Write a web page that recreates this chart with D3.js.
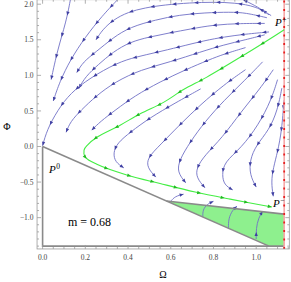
<!DOCTYPE html>
<html><head><meta charset="utf-8">
<script src="https://cdn.jsdelivr.net/npm/d3@7"></script>
<style>body{margin:0;background:#fff}svg{display:block}</style>
</head><body>
<svg id="c" width="291" height="282"></svg>
<script>
// ---- data (Ω, Φ) ----
const xTicks = [0, 0.2, 0.4, 0.6, 0.8, 1.0];
const xTickLabels = ["0.0", "0.2", "0.4", "0.6", "0.8", "1.0"];
const yTicks = [-1.0, -0.5, 0.0, 0.5, 1.0, 1.5, 2.0];
const yTickLabels = ["\u22121.0", "\u22120.5", "0.0", "0.5", "1.0", "1.5", "2.0"];
const omegaMax = 1.131;
const boxOutline = [[0, 0], [0, -1.40], [omegaMax, -1.40]];
const diagonal = [[0, 0], [1.06, -1.40]];
const greenRegion = [[0.58, -0.766], [omegaMax, -0.95], [omegaMax, -1.40], [1.06, -1.40]];
const greenTop = [[0.58, -0.766], [omegaMax, -0.95]];
const separatrix = [[1.131,1.64],[1.058,1.50],[0.956,1.31],[0.769,0.975],[0.66,0.80],[0.566,0.62],[0.457,0.46],[0.363,0.30],[0.254,0.13],[0.21,0.02],[0.194,-0.05],[0.20,-0.15],[0.254,-0.25],[0.394,-0.40],[0.55,-0.52],[0.714,-0.64],[0.878,-0.74],[1.073,-0.85]];
const streamUpper = [
  [[0.13,2.06],[0.11,1.75],[0.07,1.36],[0.04,0.94]],
  [[0.35,2.06],[0.28,1.84],[0.20,1.54],[0.13,1.22],[0.08,0.91],[0.05,0.64]],
  [[1.06,1.85],[1.01,1.96],[0.94,2.06]],
  [[1.07,1.84],[1.00,1.97],[0.90,2.02],[0.80,2.03],[0.69,2.02],[0.57,1.99],[0.48,1.95],[0.40,1.89],[0.33,1.78],[0.28,1.64],[0.25,1.50]],
  [[1.05,1.81],[0.95,1.88],[0.88,1.89],[0.76,1.88],[0.64,1.85],[0.53,1.78],[0.41,1.68],[0.33,1.53],[0.25,1.33],[0.19,1.19],[0.16,1.04]],
  [[1.04,1.73],[0.93,1.73],[0.80,1.71],[0.69,1.65],[0.60,1.60],[0.50,1.54],[0.41,1.47],[0.33,1.33],[0.26,1.15],[0.20,0.98],[0.17,0.82]],
  [[1.06,1.61],[0.95,1.58],[0.85,1.54],[0.76,1.49],[0.64,1.40],[0.53,1.32],[0.44,1.26],[0.35,1.18],[0.22,0.96],[0.13,0.75],[0.07,0.51],[0.02,0.23],[0.00,0.01]],
  [[1.04,1.57],[0.95,1.50],[0.85,1.43],[0.74,1.33],[0.60,1.19],[0.46,1.08],[0.34,0.91],[0.25,0.71],[0.18,0.51],[0.13,0.35],[0.11,0.20]],
  [[0.95,1.39],[0.85,1.30],[0.78,1.22],[0.67,1.08],[0.55,0.91],[0.43,0.71],[0.34,0.51],[0.27,0.35],[0.23,0.23]]
];
const streamMiddle = [
  [[0.74,0.81],[0.62,0.61],[0.50,0.40],[0.41,0.20],[0.35,0.05],[0.33,-0.09],[0.34,-0.22],[0.38,-0.30]],
  [[0.95,1.08],[0.85,0.87],[0.74,0.59],[0.64,0.30],[0.55,0.02],[0.49,-0.16],[0.49,-0.30],[0.53,-0.43]],
  [[1.03,1.19],[0.95,0.94],[0.85,0.65],[0.76,0.35],[0.69,0.06],[0.64,-0.19],[0.63,-0.36],[0.67,-0.51]],
  [[1.08,1.08],[1.02,0.82],[0.93,0.49],[0.84,0.12],[0.76,-0.12],[0.72,-0.30],[0.72,-0.44],[0.76,-0.58]],
  [[1.10,0.94],[1.07,0.65],[1.01,0.30],[0.93,-0.02],[0.85,-0.22],[0.84,-0.40],[0.85,-0.54],[0.89,-0.61]],
  [[1.12,0.82],[1.10,0.51],[1.06,0.23],[1.00,0.02],[0.97,-0.19],[0.97,-0.40],[1.00,-0.57]],
  [[1.13,0.65],[1.12,0.23],[1.10,-0.08],[1.08,-0.30],[1.07,-0.50],[1.08,-0.70]]
];
const streamGreen = [
  [[0.60,-0.77],[0.62,-0.70],[0.66,-0.67]],
  [[0.75,-0.99],[0.75,-0.89],[0.77,-0.81],[0.80,-0.77]],
  [[0.87,-1.16],[0.87,-1.01],[0.89,-0.89],[0.91,-0.84]],
  [[1.00,-1.30],[1.00,-1.15],[1.01,-1.01],[1.03,-0.91]]
];
const plotRange = {x: [-0.026, 1.155], y: [-1.44, 2.063]};

// ---- drawing ----
const svg = d3.select("#c");
const x = d3.scaleLinear().domain([0, 1]).range([42.6, 256.2]);
const y = d3.scaleLinear().domain([0, 2]).range([146.5, 4.2]);
const line = d3.line().x(d => x(d[0])).y(d => y(d[1]));
const curve = d3.line().x(d => x(d[0])).y(d => y(d[1])).curve(d3.curveCatmullRom.alpha(0.5));
const smooth = d3.line().x(d => x(d[0])).y(d => y(d[1])).curve(d3.curveBasis);
const serif = "'Liberation Serif','DejaVu Serif',serif";

svg.append("path").attr("d", line(greenRegion) + "Z").attr("fill", "#8ef08e").attr("stroke", "none");

function arrows(g, node, color, spacing, size) {
  const L = node.getTotalLength();
  for (let s = L; s > 5; s -= spacing) {
    const p = node.getPointAtLength(s), q = node.getPointAtLength(Math.max(0, s - 2));
    let dx = p.x - q.x, dy = p.y - q.y; const n = Math.hypot(dx, dy) || 1; dx /= n; dy /= n;
    const bx = p.x - dx * size, by = p.y - dy * size, w = size * 0.42;
    g.append("path").attr("d", `M${p.x},${p.y}L${bx - dy * w},${by + dx * w}L${bx + dy * w},${by - dx * w}Z`).attr("fill", color);
  }
}

const gs = svg.append("g");
[...streamUpper, ...streamMiddle, ...streamGreen].forEach(s => {
  const p = gs.append("path").attr("d", smooth(s)).attr("fill", "none").attr("stroke", "#7070c6").attr("stroke-width", 0.9);
  arrows(gs, p.node(), "#4040a2", 22, 4);
});

// gray outline
svg.append("path").attr("d", line(boxOutline)).attr("fill", "none").attr("stroke", "#8a8a8a").attr("stroke-width", 1.6);
svg.append("path").attr("d", line(diagonal)).attr("fill", "none").attr("stroke", "#8a8a8a").attr("stroke-width", 1.6);
svg.append("path").attr("d", line(greenTop)).attr("fill", "none").attr("stroke", "#8a8a8a").attr("stroke-width", 1.6);

// red invariant line
const redLine = [[omegaMax, plotRange.y[0]], [omegaMax, plotRange.y[1]]];
svg.append("path").attr("d", line(redLine)).attr("stroke", "#f6a8a8").attr("stroke-width", 1.6);
svg.append("path").attr("d", line(redLine)).attr("stroke", "#e52222").attr("stroke-width", 1.8).attr("stroke-dasharray", "2,6.5");

// green separatrix
const sp = svg.append("path").attr("d", curve(separatrix)).attr("fill", "none").attr("stroke", "#44ee44").attr("stroke-width", 1.1);
arrows(svg.append("g"), sp.node(), "#22bb22", 24, 4);

// frame
const fx0 = x(plotRange.x[0]), fx1 = x(plotRange.x[1]), fy0 = y(plotRange.y[0]), fy1 = y(plotRange.y[1]);
const fr = svg.append("g").attr("stroke", "#9a9a9a").attr("stroke-width", 0.8).attr("fill", "none");
fr.append("rect").attr("x", fx0).attr("y", fy1).attr("width", fx1 - fx0).attr("height", fy0 - fy1);
const xMinor = d3.range(0, 1.151, 0.05), yMinor = d3.range(-1.4, 2.06, 0.1);
xMinor.forEach(v => {
  const major = xTicks.some(t => Math.abs(t - v) < 1e-6), len = major ? 4 : 2;
  fr.append("line").attr("x1", x(v)).attr("x2", x(v)).attr("y1", fy0).attr("y2", fy0 - len);
  fr.append("line").attr("x1", x(v)).attr("x2", x(v)).attr("y1", fy1).attr("y2", fy1 + len);
});
yMinor.forEach(v => {
  const major = yTicks.some(t => Math.abs(t - v) < 1e-6), len = major ? 4 : 2;
  fr.append("line").attr("y1", y(v)).attr("y2", y(v)).attr("x1", fx0).attr("x2", fx0 + len);
  fr.append("line").attr("y1", y(v)).attr("y2", y(v)).attr("x1", fx1).attr("x2", fx1 - len);
});
const tl = svg.append("g").attr("font-family", serif).attr("font-size", 7.5).attr("fill", "#444");
xTicks.forEach((v, i) => tl.append("text").attr("x", x(v)).attr("y", 260).attr("text-anchor", "middle").text(xTickLabels[i]));
yTicks.forEach((v, i) => tl.append("text").attr("x", 33.5).attr("y", y(v) + 2.6).attr("text-anchor", "end").text(yTickLabels[i]));

svg.append("text").attr("x", 163).attr("y", 278).attr("text-anchor", "middle").attr("font-family", serif).attr("font-size", 10).text("\u03A9");
svg.append("text").attr("x", 7).attr("y", 130).attr("text-anchor", "middle").attr("font-family", serif).attr("font-size", 10).text("\u03A6");

function pLabel(px, py, sup) {
  const t = svg.append("text").attr("x", px).attr("y", py).attr("font-family", serif).attr("font-size", 11);
  t.append("tspan").attr("font-style", "italic").text("P");
  t.append("tspan").attr("font-size", 7.5).attr("dy", -4.5).attr("dx", 0.5).text(sup);
}
pLabel(275, 26, "+");
pLabel(273, 207, "\u2212");
pLabel(49, 173, "0");
svg.append("text").attr("x", 68).attr("y", 226).attr("font-family", serif).attr("font-size", 12).text("m = 0.68");
</script>
</body></html>
